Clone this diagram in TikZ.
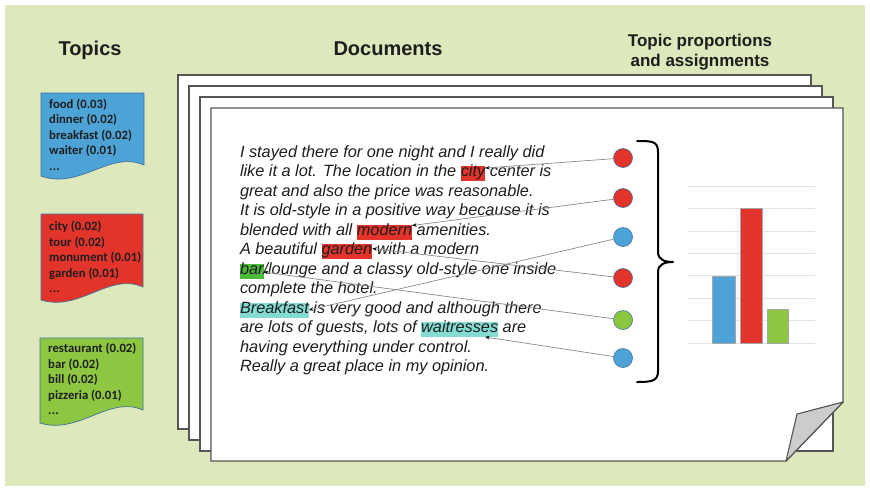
\documentclass[tikz,border=0pt]{standalone}
\usepackage{fontspec}
\setmainfont{Liberation Sans}
\newfontfamily\calib{Carlito}
\usetikzlibrary{arrows.meta,calc}

\definecolor{bg}{HTML}{DDE8BC}
\definecolor{tblue}{HTML}{4DA3D6}
\definecolor{tred}{HTML}{E2342B}
\definecolor{tgreen}{HTML}{8DC641}
\definecolor{hgreen}{HTML}{4CBB3C}
\definecolor{hcyan}{HTML}{84DBD2}
\definecolor{shapeline}{HTML}{41719C}
\definecolor{pageline}{HTML}{555555}
\definecolor{txtdark}{HTML}{1E1E1E}
\definecolor{linegray}{HTML}{8A8A8A}
\definecolor{gridgray}{HTML}{E3E3E3}

\begin{document}
\begin{tikzpicture}[x=1pt,y=-1pt,
  header/.style={font=\bfseries\fontsize{20}{24}\selectfont, text=txtdark, inner sep=0pt, anchor=base},
  subheader/.style={font=\bfseries\fontsize{17}{21}\selectfont, text=txtdark, inner sep=0pt, anchor=base},
  topicshape/.style={draw=shapeline, line width=0.7pt, fill=#1},
  topictxt/.style={font=\calib\bfseries\fontsize{12.7}{15}\selectfont, text=txtdark, inner sep=0pt, anchor=base west},
  page/.style={fill=white, draw=pageline, line width=1.4pt},
  doctxt/.style={font=\fontsize{16.3}{19.5}\selectfont\itshape, text=txtdark, inner sep=0pt, outer sep=0pt, anchor=base west},
  hl/.style={doctxt, fill=#1, text height=10.5pt, text depth=4.5pt},
  dot/.style={circle, minimum size=19pt, inner sep=0pt, draw=shapeline, line width=0.6pt, fill=#1},
  conn/.style={draw=linegray, line width=0.7pt, -{Stealth[length=4.5pt,width=3.6pt,black]}},
  bar/.style={draw=gray!70, line width=0.5pt, fill=#1}
]
\useasboundingbox (0,0) rectangle (870,491);
\fill[white] (0,0) rectangle (870,491);
\fill[bg] (5,5) rectangle (865,486);

% headings
\node[header] (hTopics) at (90,55) {Topics};
\node[header] (hDocs) at (388,55) {Documents};
\node[subheader] (hProp1) at (700,46) {Topic proportions};
\node[subheader] (hProp2) at (700,66) {and assignments};

% topic cards
\path[topicshape=tblue] (41,93) -- (144,93) -- (144,165)
  .. controls (110,150) and (80,190) .. (41,176) -- cycle;
\path[topicshape=tred] (41,214) -- (143,214) -- (143,287)
  .. controls (109,272) and (80,312) .. (41,300) -- cycle;
\path[topicshape=tgreen] (40,338) -- (143,338) -- (143,410)
  .. controls (109,395) and (79,435) .. (40,423) -- cycle;

\foreach \t [count=\i] in {food (0.03), dinner (0.02), breakfast (0.02), waiter (0.01)}
  \node[topictxt] (ta\i) at (49,93+15.4*\i) {\t};
\node[topictxt] (ta5) at (49,170) {.\kern0.2pt.\kern0.2pt.};
\foreach \t [count=\i] in {city (0.02), tour (0.02), monument (0.01), garden (0.01)}
  \node[topictxt] (tb\i) at (49,215.5+15.4*\i) {\t};
\node[topictxt] (tb5) at (49,292.5) {.\kern0.2pt.\kern0.2pt.};
\foreach \t [count=\i] in {restaurant (0.02), bar (0.02), bill (0.02), pizzeria (0.01)}
  \node[topictxt] (tc\i) at (48,337.5+15.4*\i) {\t};
\node[topictxt] (tc5) at (48,414.5) {.\kern0.2pt.\kern0.2pt.};

% stack of pages
\path[page] (178,75) rectangle (811,429);
\path[page] (189,86) rectangle (822,440);
\path[page] (200,97) rectangle (833,451);
\path[page] (211,108) -- (843,108) -- (843,402) -- (786,461) -- (211,461) -- cycle;
\path[fill=gray!40, draw=pageline, line width=1.1pt, line join=round]
  (843,402) -- (797,414) -- (786,461) -- cycle;

% document text
\node[doctxt] (l1) at (240,157) {I stayed there for one night and I really did};
\node[doctxt] (l2a) at (240,176.5) {like it a lot. The location in the\ \null};
\node[hl=tred] (city) at (l2a.base east) {city};
\node[doctxt] (l2b) at (city.base east) {\ center is};
\node[doctxt] (l3) at (240,196) {great and also the price was reasonable.};
\node[doctxt] (l4) at (240,215.5) {It is old-style in a positive way because it is};
\node[doctxt] (l5a) at (240,235) {blended with all\ \null};
\node[hl=tred] (modern) at (l5a.base east) {modern};
\node[doctxt] (l5b) at (modern.base east) {\ amenities.};
\node[doctxt] (l6a) at (240,254.5) {A beautiful\ \null};
\node[hl=tred] (garden) at (l6a.base east) {garden};
\node[doctxt] (l6b) at (garden.base east) {\ with a modern};
\node[hl=hgreen] (bar) at (240,274) {bar};
\node[doctxt] (l7b) at (bar.base east) {/lounge and a classy old-style one inside};
\node[doctxt] (l8) at (240,293.5) {complete the hotel.};
\node[hl=hcyan] (brk) at (240,313) {Breakfast};
\node[doctxt] (l9b) at (brk.base east) {\ is very good and although there};
\node[doctxt] (l10a) at (240,332.5) {are lots of guests, lots of\ \null};
\node[hl=hcyan] (wait) at (l10a.base east) {waitresses};
\node[doctxt] (l10b) at (wait.base east) {\ are};
\node[doctxt] (l11) at (240,352) {having everything under control.};
\node[doctxt] (l12) at (240,371.5) {Really a great place in my opinion.};

% topic assignments
\node[dot=tred] (c1) at (623,158) {};
\node[dot=tred] (c2) at (623,198) {};
\node[dot=tblue] (c3) at (623,237) {};
\node[dot=tred] (c4) at (623,278) {};
\node[dot=tgreen] (c5) at (623,320) {};
\node[dot=tblue] (c6) at (623,358) {};

\draw[conn] (c1) -- ([yshift=-2pt]city.north east);
\draw[conn] (c2) -- ([yshift=-1pt]modern.north east);
\draw[conn] (c3) -- (brk.east);
\draw[conn] (c4) -- ([yshift=3pt]garden.east);
\draw[conn] (c5) -- ([yshift=-1pt]bar.east);
\draw[conn] (c6) -- ($(wait.south west)!0.83!(wait.south east)$);

% brace
\draw[line width=2pt, line cap=round, line join=round]
  (637,141) .. controls (652,141) and (658,141) .. (658,152) -- (658,252)
  .. controls (658,260) and (665,262) .. (673,262)
  .. controls (665,262) and (658,264) .. (658,272) -- (658,371)
  .. controls (658,381) and (652,382) .. (637,382);

% topic proportions chart
\foreach \k in {0,1,2,3,4,5,6,7}
  \draw[gridgray, line width=0.6pt] (688,186+22.43*\k) -- (815,186+22.43*\k);
\path[bar=tblue] (712,276) rectangle (735,343);
\path[bar=tred] (740,208) rectangle (762,343);
\path[bar=tgreen] (767,309) rectangle (788,343);
\end{tikzpicture}
\end{document}
